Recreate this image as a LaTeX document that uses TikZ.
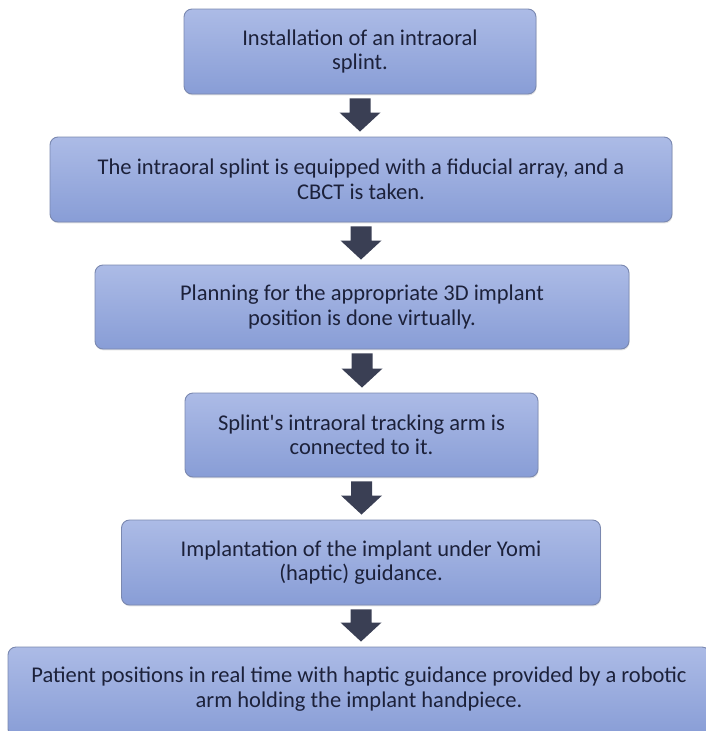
\documentclass[tikz,border=0pt]{standalone}
\usepackage{fontspec}
\setmainfont{Carlito}
\usetikzlibrary{calc,shadows}
\definecolor{boxtop}{RGB}{172,187,230}
\definecolor{boxbot}{RGB}{136,157,214}
\definecolor{boxline}{RGB}{122,136,176}
\definecolor{txtcol}{RGB}{28,33,58}
\definecolor{arrcol}{RGB}{58,63,84}
\tikzset{
  stepbox/.style={rectangle, rounded corners=8pt, draw=boxline, line width=0.9pt,
    top color=boxtop, bottom color=boxbot, text=txtcol, align=center,
    font=\fontsize{22.5}{24.5}\selectfont, inner sep=0pt,
    drop shadow={shadow xshift=0.6pt, shadow yshift=-1.4pt, opacity=0.18, fill=black!60}},
}
\newcommand{\blockarrow}[2]{%
  \path let \p1=($(#1.south)+(0,4)$), \p2=($(#2.north)+(0,-5)$) in
    [fill=arrcol] (\x1-10.5pt,\y1) -- (\x1+10.5pt,\y1) -- (\x1+10.5pt,\y2+19pt)
    -- (\x1+20.5pt,\y2+19pt) -- (\x1,\y2) -- (\x1-20.5pt,\y2+19pt)
    -- (\x1-10.5pt,\y2+19pt) -- cycle;}
\begin{document}
\begin{tikzpicture}[x=1pt,y=-1pt]
\useasboundingbox (0,0) rectangle (705,731);
\node[stepbox, minimum width=352pt, minimum height=85pt] (b1) at (360,51.5)
  {Installation of an intraoral\\splint.};
\node[stepbox, minimum width=622pt, minimum height=85pt] (b2) at (361,179.5)
  {The intraoral splint is equipped with a fiducial array, and a\\CBCT is taken.};
\node[stepbox, minimum width=534pt, minimum height=84pt] (b3) at (362,307)
  {Planning for the appropriate 3D implant\\position is done virtually.};
\node[stepbox, minimum width=353pt, minimum height=84pt] (b4) at (361.5,435)
  {Splint\textquotesingle s intraoral tracking arm is\\connected to it.};
\node[stepbox, minimum width=479pt, minimum height=85pt] (b5) at (361,562.5)
  {Implantation of the implant under Yomi\\(haptic) guidance.};
\node[stepbox, minimum width=702pt, minimum height=90pt] (b6) at (359,692)
  {Patient positions in real time with haptic guidance provided by a robotic\\arm holding the implant handpiece.\rule[-10pt]{0pt}{0pt}};
\blockarrow{b1}{b2}
\blockarrow{b2}{b3}
\blockarrow{b3}{b4}
\blockarrow{b4}{b5}
\blockarrow{b5}{b6}
\end{tikzpicture}
\end{document}
